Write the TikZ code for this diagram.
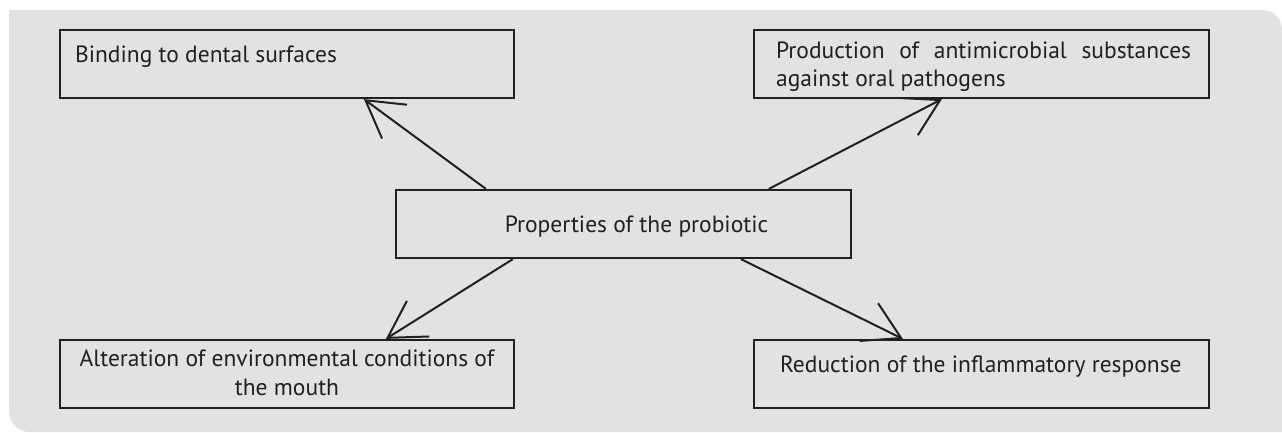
\documentclass[tikz,border=0pt]{standalone}
\usepackage{fontspec}
\setmainfont{PT Sans}
\usetikzlibrary{arrows.meta,calc}
\definecolor{bg}{RGB}{225,226,228}
\definecolor{ink}{RGB}{35,31,32}
\begin{document}
\begin{tikzpicture}[x=1pt,y=-1pt,
  box/.style={draw=ink,line width=2.2pt,minimum width=454pt,minimum height=68pt,inner sep=0pt},
  txt/.style={text=ink,inner sep=0pt,font=\fontsize{23.5}{29}\selectfont},
  ptxt/.style={text=ink,inner sep=0pt,font=\fontsize{23.5}{28}\selectfont},
  arr/.style={draw=ink,line width=2pt,-{Straight Barb[length=36pt,width=42pt,line width=2pt]}}]
\useasboundingbox (0,0) rectangle (1282,432);
\fill[bg] (9,10) -- (1262,10) .. controls (1273,10) and (1282,19) .. (1282,30)
  -- (1282,432) -- (29,432) .. controls (18,432) and (9,422) .. (9,412) -- cycle;
\node[box] (bind) at (287,64) {};
\node[box,minimum width=455pt] (prod) at (981.5,64) {};
\node[box,minimum width=455pt] (ctr) at (623.5,224) {};
\node[box] (alt) at (287,374) {};
\node[box,minimum width=455pt] (red) at (981.5,374) {};
\node[txt,anchor=base west] (bindt) at ([xshift=16pt,yshift=-34pt]bind.north west) {Binding to dental surfaces};
\node[ptxt,anchor=north west,align=left] (prodt) at ([xshift=23pt,yshift=-13pt]prod.north west)
  {\makebox[415pt][s]{Production of antimicrobial substances}\\against oral pathogens};
\node[txt,anchor=base] (ctrt) at ([xshift=13pt,yshift=-8pt]ctr.center) {Properties of the probiotic};
\node[txt,anchor=north,align=center] (altt) at ([yshift=-11pt]alt.north) {Alteration of environmental conditions of\\the mouth};
\node[txt,anchor=base west] (redt) at ([xshift=27pt,yshift=-34pt]red.north west) {Reduction of the inflammatory response};
\draw[arr] ([xshift=91pt]ctr.north west) -- ([xshift=305pt]bind.south west);
\draw[arr] ([xshift=374pt]ctr.north west) -- ([xshift=189pt]prod.south west);
\draw[arr] ([xshift=118pt]ctr.south west) -- ([xshift=327pt]alt.north west);
\draw[arr] ([xshift=346pt]ctr.south west) -- ([xshift=150pt]red.north west);
\end{tikzpicture}
\end{document}
